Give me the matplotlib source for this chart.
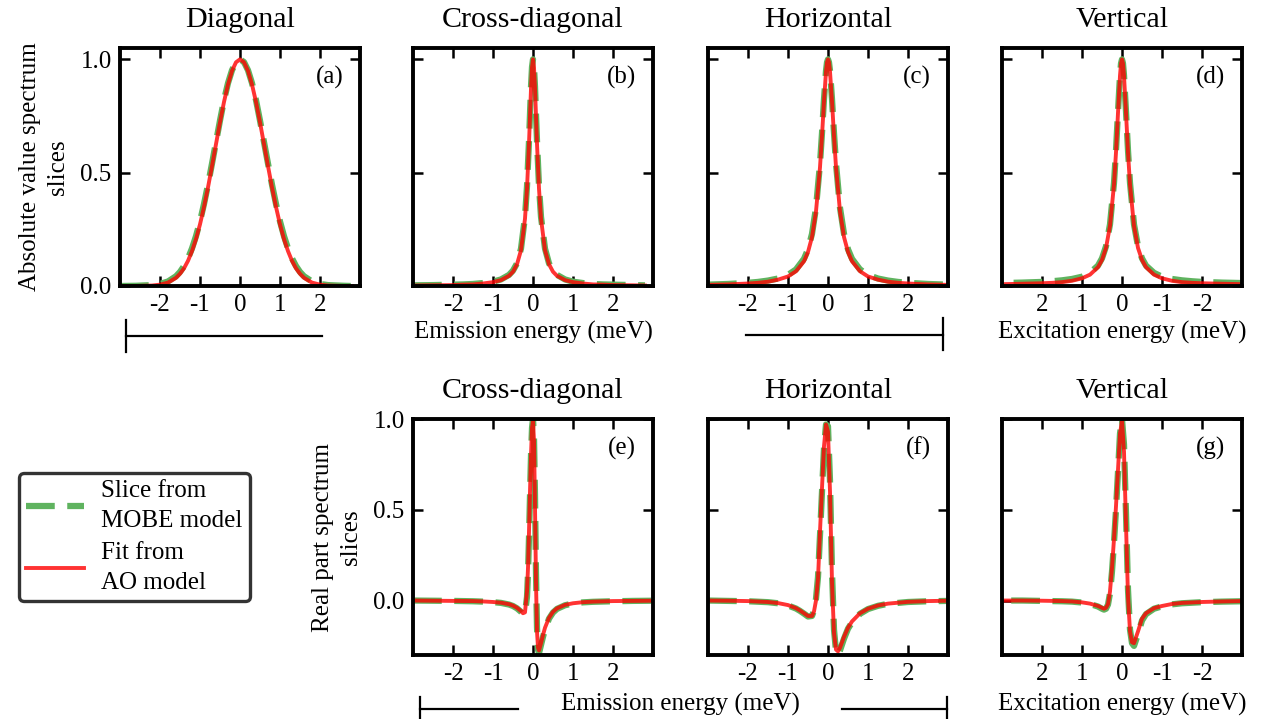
import numpy as np
import matplotlib.pyplot as plt
from matplotlib.lines import Line2D

plt.rcParams['font.family'] = 'Liberation Serif'
plt.rcParams['font.size'] = 18
plt.rcParams['axes.unicode_minus'] = False

## Data ################################################################
# (a) Diagonal, absolute value
xA = [-3.0, -2.6, -2.2, -2.0, -1.8, -1.6, -1.5, -1.4, -1.3, -1.2, -1.1, -1.0, -0.9, -0.8, -0.7,
      -0.6, -0.5, -0.4, -0.3, -0.2, -0.1, 0.0, 0.1, 0.2, 0.3, 0.4, 0.5, 0.6, 0.7, 0.8, 0.9,
      1.0, 1.1, 1.2, 1.3, 1.4, 1.5, 1.6, 1.8, 2.0, 2.2, 2.6, 2.8]
yA_mobe = [0.0, 0.001, 0.004, 0.009, 0.02, 0.043, 0.062, 0.088, 0.122, 0.166, 0.22, 0.285, 0.362, 0.447, 0.54,
           0.635, 0.73, 0.82, 0.895, 0.952, 0.988, 1.0, 0.988, 0.952, 0.895, 0.82, 0.73, 0.635, 0.54, 0.447, 0.362,
           0.285, 0.22, 0.166, 0.122, 0.088, 0.062, 0.043, 0.02, 0.009, 0.004, 0.001, 0.0]
yA_fit = [0.0, 0.0, 0.002, 0.006, 0.015, 0.036, 0.054, 0.078, 0.111, 0.154, 0.207, 0.272, 0.349, 0.435, 0.529,
          0.626, 0.722, 0.812, 0.889, 0.949, 0.987, 1.0, 0.987, 0.949, 0.889, 0.812, 0.722, 0.626, 0.529, 0.435, 0.349,
          0.272, 0.207, 0.154, 0.111, 0.078, 0.054, 0.036, 0.015, 0.006, 0.002, 0.0, 0.0]

# (b) Cross-diagonal, absolute value
xB = [-3.0, -2.5, -2.0, -1.75, -1.5, -1.25, -1.0, -0.8, -0.6, -0.5, -0.4, -0.3, -0.2, -0.15, -0.1, -0.05, -0.025,
      0.0, 0.025, 0.05, 0.1, 0.15, 0.2, 0.3, 0.4, 0.5, 0.6, 0.8, 1.0, 1.25, 1.5, 1.75, 2.0, 2.5, 2.8]
yB_mobe = [0.003, 0.004, 0.006, 0.007, 0.009, 0.013, 0.019, 0.029, 0.049, 0.068, 0.10, 0.165, 0.305, 0.44, 0.64, 0.88, 0.966,
           1.0, 0.966, 0.88, 0.64, 0.44, 0.305, 0.165, 0.10, 0.068, 0.049, 0.029, 0.019, 0.013, 0.009, 0.007, 0.006, 0.004, 0.003]
yB_fit = [0.002, 0.003, 0.004, 0.006, 0.007, 0.011, 0.017, 0.026, 0.045, 0.063, 0.096, 0.158, 0.297, 0.429, 0.628, 0.871, 0.964,
          1.0, 0.964, 0.871, 0.628, 0.429, 0.297, 0.158, 0.096, 0.063, 0.045, 0.026, 0.017, 0.011, 0.007, 0.006, 0.004, 0.003, 0.002]

# (c) Horizontal, absolute value
xC = [-3.0, -2.5, -2.0, -1.75, -1.5, -1.25, -1.0, -0.8, -0.6, -0.5, -0.4, -0.3, -0.2, -0.15, -0.1, -0.05, -0.025,
      0.0, 0.025, 0.05, 0.1, 0.15, 0.2, 0.3, 0.4, 0.5, 0.6, 0.8, 1.0, 1.25, 1.5, 1.75, 2.0, 2.5, 3.0]
yC_mobe = [0.006, 0.009, 0.014, 0.018, 0.024, 0.033, 0.049, 0.073, 0.12, 0.162, 0.23, 0.345, 0.54, 0.675, 0.825, 0.95, 0.987,
           1.0, 0.987, 0.95, 0.825, 0.675, 0.54, 0.345, 0.23, 0.162, 0.12, 0.073, 0.049, 0.033, 0.024, 0.018, 0.014, 0.009, 0.006]
yC_fit = [0.005, 0.007, 0.011, 0.014, 0.019, 0.028, 0.042, 0.065, 0.109, 0.150, 0.216, 0.329, 0.524, 0.662, 0.815, 0.946, 0.986,
          1.0, 0.986, 0.946, 0.815, 0.662, 0.524, 0.329, 0.216, 0.150, 0.109, 0.065, 0.042, 0.028, 0.019, 0.014, 0.011, 0.007, 0.005]

# (d) Vertical, absolute value
xD = [-3.0, -2.5, -2.0, -1.75, -1.5, -1.25, -1.0, -0.8, -0.6, -0.5, -0.4, -0.3, -0.2, -0.15, -0.1, -0.05, -0.025,
      0.0, 0.025, 0.05, 0.1, 0.15, 0.2, 0.3, 0.4, 0.5, 0.6, 0.8, 1.0, 1.25, 1.5, 1.75, 2.0, 2.5, 3.0]
yD_mobe = [0.013, 0.015, 0.018, 0.021, 0.025, 0.031, 0.041, 0.058, 0.09, 0.122, 0.175, 0.272, 0.455, 0.598, 0.77, 0.93, 0.982,
           1.0, 0.982, 0.93, 0.77, 0.598, 0.455, 0.272, 0.175, 0.122, 0.09, 0.058, 0.041, 0.031, 0.025, 0.021, 0.018, 0.015, 0.013]
yD_fit = [0.008, 0.010, 0.012, 0.014, 0.017, 0.023, 0.034, 0.050, 0.083, 0.115, 0.168, 0.265, 0.447, 0.590, 0.764, 0.928, 0.981,
          1.0, 0.981, 0.928, 0.764, 0.590, 0.447, 0.265, 0.168, 0.115, 0.083, 0.050, 0.034, 0.023, 0.017, 0.014, 0.012, 0.010, 0.008]

# (e) Cross-diagonal, real part
xE = [-3.0, -2.5, -2.0, -1.5, -1.25, -1.0, -0.8, -0.6, -0.5, -0.4, -0.3, -0.25, -0.2, -0.15, -0.125, -0.1, -0.075, -0.05, -0.025,
      0.0, 0.025, 0.05, 0.075, 0.1, 0.125, 0.15, 0.2, 0.25, 0.3, 0.4, 0.5, 0.6, 0.8, 1.0, 1.25, 1.5, 2.0, 2.5, 3.0]
yE_mobe = [0.0, -0.001, -0.002, -0.004, -0.006, -0.009, -0.013, -0.022, -0.03, -0.043, -0.062, -0.075, -0.072, 0.02, 0.15, 0.35, 0.58, 0.8, 0.95,
           1.0, 0.9, 0.58, 0.15, -0.15, -0.27, -0.29, -0.245, -0.2, -0.16, -0.1, -0.066, -0.046, -0.026, -0.016, -0.01, -0.007, -0.004, -0.002, -0.001]
yE_fit = [0.0, -0.001, -0.002, -0.003, -0.005, -0.008, -0.012, -0.02, -0.028, -0.04, -0.058, -0.07, -0.065, 0.05, 0.18, 0.38, 0.6, 0.8, 0.95,
          0.99, 0.88, 0.52, 0.1, -0.17, -0.26, -0.275, -0.235, -0.19, -0.15, -0.095, -0.062, -0.043, -0.024, -0.015, -0.009, -0.006, -0.003, -0.002, -0.001]

# (f) Horizontal, real part
xF = [-3.0, -2.5, -2.0, -1.5, -1.25, -1.0, -0.8, -0.7, -0.6, -0.5, -0.4, -0.35, -0.3, -0.25, -0.2, -0.15, -0.1, -0.05,
      0.0, 0.05, 0.1, 0.15, 0.2, 0.25, 0.3, 0.4, 0.5, 0.6, 0.8, 1.0, 1.25, 1.5, 2.0, 2.5, 3.0]
yF_mobe = [0.0, -0.002, -0.004, -0.009, -0.015, -0.027, -0.044, -0.057, -0.072, -0.088, -0.085, -0.055, 0.01, 0.13, 0.36, 0.6, 0.84, 0.97,
           0.96, 0.66, 0.16, -0.16, -0.28, -0.3, -0.275, -0.21, -0.155, -0.12, -0.073, -0.047, -0.029, -0.018, -0.008, -0.004, -0.002]
yF_fit = [0.0, -0.001, -0.003, -0.008, -0.014, -0.025, -0.042, -0.055, -0.07, -0.085, -0.085, -0.06, 0.0, 0.12, 0.38, 0.62, 0.85, 0.97,
          0.93, 0.6, 0.1, -0.18, -0.27, -0.28, -0.26, -0.2, -0.15, -0.115, -0.07, -0.045, -0.027, -0.017, -0.007, -0.003, -0.001]

# (g) Vertical, real part (excitation axis drawn reversed)
xG = [-3.0, -2.5, -2.0, -1.5, -1.25, -1.0, -0.8, -0.6, -0.5, -0.4, -0.3, -0.25, -0.2, -0.15, -0.1, -0.05,
      0.0, 0.05, 0.1, 0.15, 0.2, 0.25, 0.3, 0.35, 0.4, 0.45, 0.5, 0.6, 0.8, 1.0, 1.25, 1.5, 2.0, 2.5, 3.0]
yG_mobe = [-0.004, -0.006, -0.009, -0.015, -0.021, -0.032, -0.045, -0.075, -0.11, -0.185, -0.25, -0.235, -0.16, 0.06, 0.48, 0.86,
           1.0, 0.92, 0.71, 0.5, 0.32, 0.16, 0.04, -0.022, -0.045, -0.05, -0.045, -0.033, -0.019, -0.011, -0.006, -0.004, -0.002, 0.0, 0.0]
yG_fit = [-0.003, -0.005, -0.008, -0.013, -0.019, -0.03, -0.042, -0.07, -0.1, -0.17, -0.235, -0.23, -0.17, 0.02, 0.42, 0.82,
          0.99, 0.92, 0.72, 0.52, 0.34, 0.18, 0.05, -0.02, -0.04, -0.045, -0.04, -0.03, -0.017, -0.01, -0.005, -0.003, -0.001, 0.0, 0.0]

titles = ['Diagonal', 'Cross-diagonal', 'Horizontal', 'Vertical', 'Cross-diagonal', 'Horizontal', 'Vertical']
tags = ['(a)', '(b)', '(c)', '(d)', '(e)', '(f)', '(g)']
xticks = [-2, -1, 0, 1, 2]
yticks = [0.0, 0.5, 1.0]
## Data over ###########################################################

# Styles
cGreen = '#5fb35f'
cRed = 'red'
W, H = 1273., 719.

fig = plt.figure(figsize=(W/100, H/100), dpi=100)

def px_axes(left, top, w, h):
    # axes placed in pixel coordinates (origin top-left)
    return fig.add_axes([left/W, 1-(top+h)/H, w/W, h/H])

colL = [120, 413, 708, 1002]
axW = 240
axs = [px_axes(colL[i], 48, axW, 238) for i in range(4)]
axs += [px_axes(colL[i], 419, axW, 236) for i in range(1, 4)]

panels = [(xA, yA_mobe, yA_fit), (xB, yB_mobe, yB_fit), (xC, yC_mobe, yC_fit), (xD, yD_mobe, yD_fit),
          (xE, yE_mobe, yE_fit), (xF, yF_mobe, yF_fit), (xG, yG_mobe, yG_fit)]

lines = []
for i, ax in enumerate(axs):
    x, ym, yf = panels[i]
    l1, = ax.plot(x, ym, '--', color=cGreen, lw=4.5, dashes=(4.6, 2.0), label='Slice from\nMOBE model')
    l2, = ax.plot(x, yf, '-', color=cRed, lw=2.8, alpha=0.8, label='Fit from\nAO model')
    lines = [l1, l2]
    if i in (3, 6):
        ax.set_xlim(3, -3)
    else:
        ax.set_xlim(-3, 3)
    if i < 4:
        ax.set_ylim(0, 1.05)
    else:
        ax.set_ylim(-0.3, 1.0)
    ax.set_xticks(xticks)
    ax.set_xticklabels([str(t) for t in xticks])
    ax.set_yticks(yticks)
    if i in (0, 4):
        ax.set_yticklabels(['%.1f' % t for t in yticks])
    else:
        ax.set_yticklabels([])
    ax.tick_params(direction='in', top=True, right=True, length=7, width=1.8, pad=6)
    for s in ax.spines.values():
        s.set_linewidth(2.8)
    ax.set_title(titles[i], pad=15)
    ax.text(0.93, 0.875, tags[i], transform=ax.transAxes, ha='right', va='center')

axs[0].set_ylabel('Absolute value spectrum\nslices', labelpad=8, linespacing=1.35)
axs[4].set_ylabel('Real part spectrum\nslices', labelpad=8, linespacing=1.35)

# x labels (emission label spans several panels)
fig.text(533/W, 1-332/H, 'Emission energy (meV)', ha='center', va='center')
fig.text(1122/W, 1-332/H, 'Excitation energy (meV)', ha='center', va='center')
fig.text(680/W, 1-704/H, 'Emission energy (meV)', ha='center', va='center')
fig.text(1122/W, 1-704/H, 'Excitation energy (meV)', ha='center', va='center')

def bracket(x0, x1, y, capx, cap0, cap1):
    fig.add_artist(Line2D([x0/W, x1/W], [1-y/H, 1-y/H], transform=fig.transFigure, color='k', lw=1.6))
    fig.add_artist(Line2D([capx/W, capx/W], [1-cap0/H, 1-cap1/H], transform=fig.transFigure, color='k', lw=1.6))

bracket(126, 322, 336, 126, 320, 352)
bracket(746, 943, 335, 943, 318, 350)
bracket(420, 518, 709, 420, 697, 725)
bracket(842, 947, 709, 947, 697, 725)

leg = fig.legend(lines, [l.get_label() for l in lines], loc='center',
                 bbox_to_anchor=(134.5/W, 1-537/H), handlelength=2.3, handletextpad=0.7,
                 labelspacing=0.4, borderpad=0.3, fancybox=True, framealpha=1)
for t in leg.get_texts():
    t.set_linespacing(1.45)
leg.get_frame().set_edgecolor('#333333')
leg.get_frame().set_linewidth(2.4)

plt.savefig('out.png', dpi=100)
